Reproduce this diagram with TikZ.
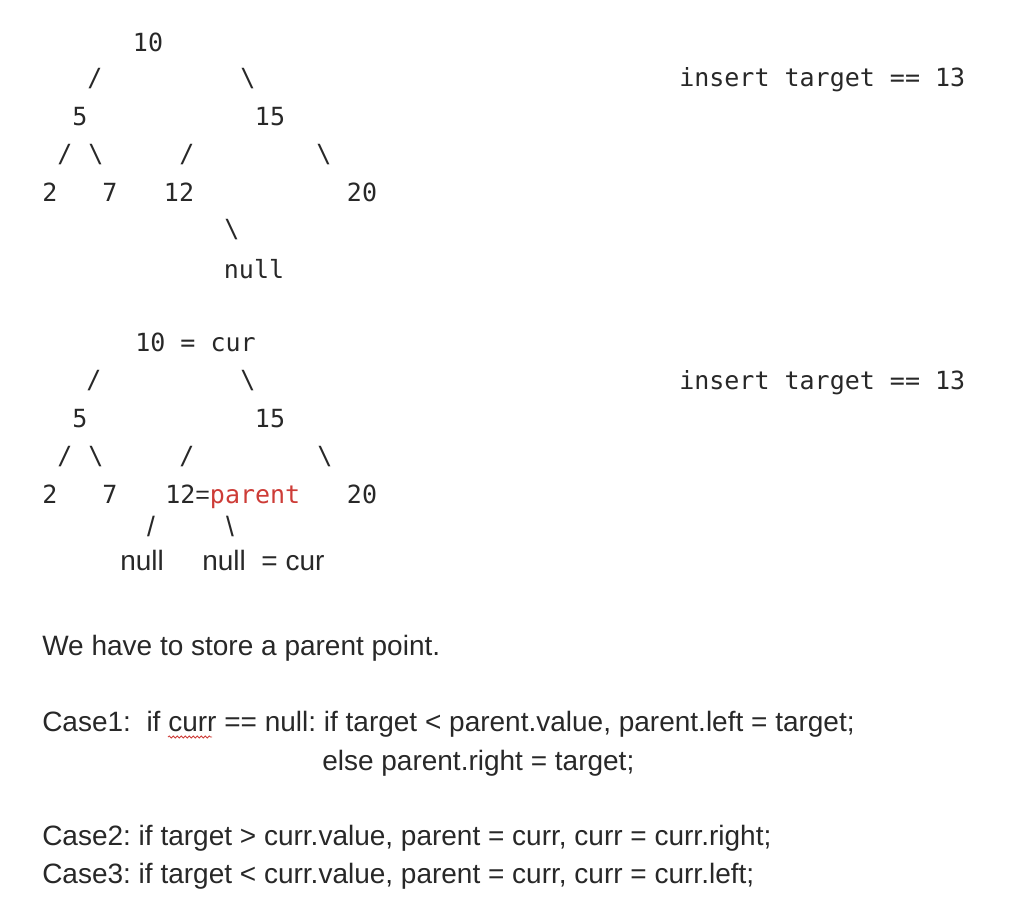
\documentclass[tikz,border=0pt]{standalone}
\usepackage{fontspec}
\setmainfont{Liberation Sans}
\newfontfamily\monof{DejaVu Sans Mono}
\newfontfamily\sansf{Liberation Sans}
\usetikzlibrary{decorations.pathmorphing}
\definecolor{ink}{RGB}{40,40,40}
\definecolor{redink}{RGB}{205,60,55}
\frenchspacing
\tikzset{
  mono/.style={font=\monof\fontsize{18.75}{20}\selectfont, text=ink, inner sep=0pt},
  monolink/.style={mono},
  sans/.style={font=\sansf\fontsize{21}{24}\selectfont\frenchspacing, text=ink, inner sep=0pt},
  sanslink/.style={sans},
  line/.style={sans, anchor=base west},
  squiggle/.style={draw=redink, line width=0.6pt, decorate, decoration={snake, amplitude=0.8pt, segment length=3pt}}
}
\begin{document}
\begin{tikzpicture}[x=0.75pt, y=-0.75pt]
\useasboundingbox (0,0) rectangle (1030,923);

% ---------- tree 1 ----------
\node[mono] (a10) at (148,42) {10};
\node[monolink] (a1) at (95,79) {/};
\node[monolink] (a2) at (248,79) {\textbackslash};
\node[mono] (a5) at (80,117) {5};
\node[mono] (a15) at (270,117) {15};
\node[monolink] (a3) at (65,155) {/};
\node[monolink] (a4) at (96,155) {\textbackslash};
\node[monolink] (a6) at (187,155) {/};
\node[monolink] (a7) at (324,155) {\textbackslash};
\node[mono] (a2n) at (50,192) {2};
\node[mono] (a7n) at (110,192) {7};
\node[mono] (a12) at (179,192) {12};
\node[mono] (a20) at (362,192) {20};
\node[monolink] (a8) at (232,230) {\textbackslash};
\node[mono] (anull) at (254,269) {null};
\node[mono, anchor=base west] (ins1) at (679,87) {insert target == 13};

% ---------- tree 2 ----------
\node[mono, anchor=base west] (b10) at (135,351) {10 = cur};
\node[monolink] (b1) at (94,381) {/};
\node[monolink] (b2) at (248,381) {\textbackslash};
\node[mono] (b5) at (80,419) {5};
\node[mono] (b15) at (270,419) {15};
\node[monolink] (b3) at (65,457) {/};
\node[monolink] (b4) at (96,457) {\textbackslash};
\node[monolink] (b6) at (187,457) {/};
\node[monolink] (b7) at (325,457) {\textbackslash};
\node[mono] (b2n) at (50,494) {2};
\node[mono] (b7n) at (110,494) {7};
\node[mono, anchor=base west] (b12) at (165,503) {12{\sansf=}\textcolor{redink}{parent}};
\node[mono] (b20) at (362,494) {20};
\node[sanslink] (b8) at (151,526) {/};
\node[sanslink] (b9) at (230,526) {\textbackslash};
\node[sans, anchor=base west] (bnull1) at (120,570) {null};
\node[sans, anchor=base west] (bnull2) at (202,570) {null\ \ = cur};
\node[mono, anchor=base west] (ins2) at (679,389) {insert target == 13};

% ---------- notes ----------
\node[line] (t1) at (42,655) {We have to store a parent point.};
\node[line] (t2) at (42,731) {Case1:\ \ if curr == null: if target < parent.value, parent.left = target;};
\node[line] (t3) at (322,770) {else parent.right = target;};
\node[line] (t4) at (42,845) {Case2: if target > curr.value, parent = curr, curr = curr.right;};
\node[line] (t5) at (42,883) {Case3: if target < curr.value, parent = curr, curr = curr.left;};
\coordinate (sq1) at (168,737);
\coordinate (sq2) at (212,737);
\draw[squiggle] (sq1) -- (sq2);
\end{tikzpicture}
\end{document}
